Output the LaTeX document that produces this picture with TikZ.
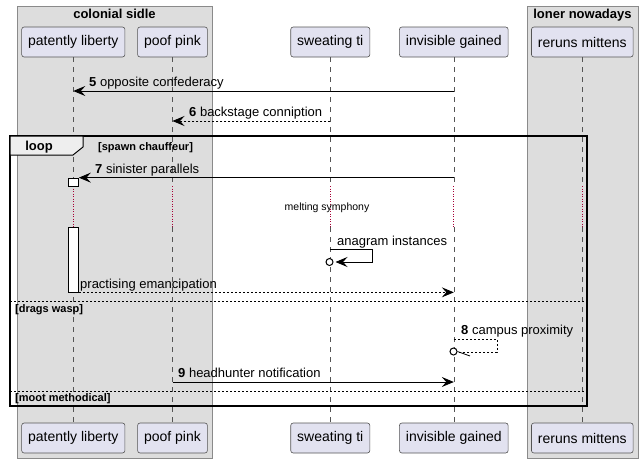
\documentclass[tikz,border=0pt]{standalone}
\usepackage{fontspec}
\setmainfont{Liberation Sans}
\usetikzlibrary{arrows.meta}

\definecolor{partfill}{HTML}{E2E2F0}
\definecolor{partline}{HTML}{555555}
\definecolor{boxfill}{HTML}{DDDDDD}
\definecolor{boxline}{HTML}{8A8A8A}
\definecolor{delayred}{HTML}{A80036}
\definecolor{tabfill}{HTML}{EEEEEE}

\tikzset{
  participant/.style={draw=partline, fill=partfill, rounded corners=2.5pt, line width=0.6pt,
    minimum height=30pt, inner xsep=6.5pt, font=\fontsize{14}{16}\selectfont},
  lifeline/.style={draw=partline, dash pattern=on 5pt off 5pt, line width=0.6pt},
  delayline/.style={draw=delayred, dash pattern=on 1pt off 1.5pt, line width=0.9pt},
  activation/.style={draw=black, fill=white, minimum width=10pt, inner sep=0pt, line width=0.7pt},
  msg/.style={line width=0.8pt, -{Stealth[length=12pt,width=10pt,inset=4.5pt]}},
  reply/.style={msg, dash pattern=on 2pt off 2pt},
  msglabel/.style={anchor=base west, inner sep=0pt, font=\fontsize{13}{15}\selectfont},
  grouptitle/.style={anchor=base, inner sep=0pt, font=\bfseries\fontsize{13}{15}\selectfont},
  guard/.style={anchor=base west, inner sep=0pt, font=\bfseries\fontsize{11}{13}\selectfont},
  lostend/.style={circle, draw=black, fill=white, minimum size=7pt, inner sep=0pt, line width=1pt},
}

\begin{document}
\begin{tikzpicture}[x=1pt,y=-1pt]
  \useasboundingbox (0,0) rectangle (643,463);

  % boxes
  \draw[fill=boxfill, draw=boxline] (17,6) rectangle (212,458);
  \node[grouptitle] (boxL) at (114.5,19) {colonial sidle};
  \draw[fill=boxfill, draw=boxline] (527,6) rectangle (638,458);
  \node[grouptitle] (boxR) at (582.5,19) {loner nowadays};

  % participants, top and bottom
  \node[participant] (plT) at (73.3,42) {patently liberty};
  \node[participant] (ppT) at (172.5,42) {poof pink};
  \node[participant] (stT) at (330.3,42) {sweating ti};
  \node[participant] (igT) at (453.8,42) {invisible gained};
  \node[participant] (rmT) at (582.3,42) {reruns mittens};
  \node[participant] (plB) at (73.3,438) {patently liberty};
  \node[participant] (ppB) at (172.5,438) {poof pink};
  \node[participant] (stB) at (330.3,438) {sweating ti};
  \node[participant] (igB) at (453.8,438) {invisible gained};
  \node[participant] (rmB) at (582.3,438) {reruns mittens};

  % lifelines, broken by the delay
  \coordinate (dA) at (0,186);
  \coordinate (dB) at (0,227);
  \foreach \p in {pl,pp,st,ig,rm} {
    \draw[lifeline] (\p T.south) -- (\p T |- dA);
    \draw[delayline] (\p T |- dA) -- (\p T |- dB);
    \draw[lifeline] (\p T |- dB) -- (\p B.north);
  }

  % message 5 and 6
  \coordinate (m5) at (0,91);
  \draw[msg] (igT |- m5) -- (plT |- m5);
  \node[msglabel] (l5) at (89,86) {\textbf{5} opposite confederacy};
  \coordinate (m6) at (0,121);
  \draw[reply] (stT |- m6) -- (ppT |- m6);
  \node[msglabel] (l6) at (189,116) {\textbf{6} backstage conniption};

  % loop frame
  \draw[line width=1.5pt] (10,136) rectangle (587,406);
  \draw[fill=tabfill, line width=1pt] (10,136) -- (83,136) -- (83,147) -- (73,155) -- (10,155) -- cycle;
  \node[grouptitle] (loop) at (39,150.5) {loop};
  \node[guard] (g1) at (98,150.5) {[spawn chauffeur]};

  % activation on patently liberty
  \node[activation, minimum height=8pt] (act1) at (73.5,182) {};
  \node[activation, minimum height=65pt] (act2) at (73.5,259.5) {};

  % message 7
  \draw[msg] (igT |- act1.north) -- (act1.north east);
  \node[msglabel] (l7) at (95,173) {\textbf{7} sinister parallels};

  % delay
  \node[inner sep=0pt, font=\fontsize{10.5}{12}\selectfont] (delay) at (327,207.7) {melting symphony};

  % self message on sweating ti
  \coordinate (a1) at (372,249);
  \coordinate (a2) at (372,262);
  \node[lostend] (c1) at (329.5,262) {};
  \draw[msg] (stT |- a1) -- (a1) -- (a2) -- ([xshift=2pt]c1.east);
  \node[msglabel] (la) at (337,245) {anagram instances};

  % reply back
  \draw[reply] (act2.south east) -- (igT |- act2.south);
  \node[msglabel] (lp) at (80,288) {practising emancipation};

  % first else
  \draw[dash pattern=on 2pt off 2pt, line width=0.8pt] (10,301.5) -- (587,301.5);
  \node[guard] (g2) at (15,312) {[drags wasp]};

  % self message 8
  \coordinate (b1) at (497,339);
  \coordinate (b2) at (497,352);
  \node[lostend] (c2) at (453.5,351.5) {};
  \draw[dash pattern=on 2pt off 2pt, line width=0.8pt] (igT |- b1) -- (b1) -- (b2) -- (c2.east |- b2);
  \draw[line width=0.8pt] (c2.east) -- (470,356);
  \node[msglabel] (l8) at (461,334) {\textbf{8} campus proximity};

  % message 9
  \coordinate (m9) at (0,382);
  \draw[msg] (ppT |- m9) -- (igT |- m9);
  \node[msglabel] (l9) at (178,377) {\textbf{9} headhunter notification};

  % second else
  \draw[dash pattern=on 2pt off 2pt, line width=0.8pt] (10,391) -- (587,391);
  \node[guard] (g3) at (15,401) {[moot methodical]};
\end{tikzpicture}
\end{document}
